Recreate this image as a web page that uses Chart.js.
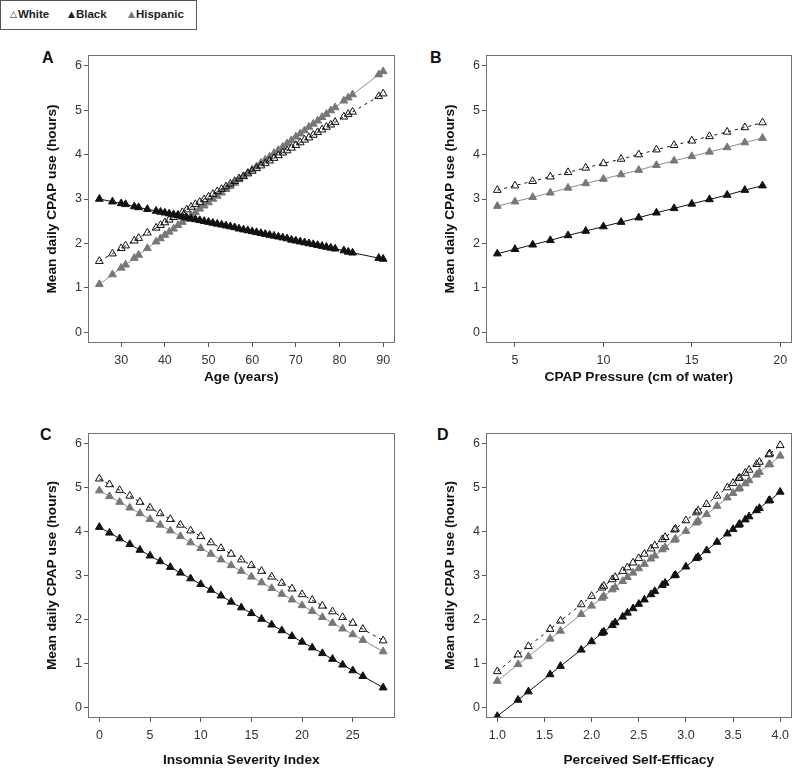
<!DOCTYPE html>
<html>
<head>
<meta charset="utf-8">
<script src="https://cdn.jsdelivr.net/npm/chart.js@4.4.0/dist/chart.umd.min.js"></script>
<style>
  body { margin: 0; background: #fff; width: 797px; height: 770px; position: relative; overflow: hidden;
         font-family: 'Liberation Sans', Arial, sans-serif; }
  canvas { position: absolute; }
  .letter { position: absolute; font: bold 16px/16px 'Liberation Sans', Arial, sans-serif; color: #111; }
  #legend { position: absolute; left: 0; top: 0; width: 197px; height: 30px; border: 1px solid #555; box-sizing: border-box; }
  #legend > span { position: absolute; top: 7px; font-weight: bold; font-size: 11.5px; color: #222; }
  #legend .sym { font-family: 'DejaVu Sans', sans-serif; font-size: 9px; font-weight: normal; vertical-align: 1px; margin-right: 1px; }
</style>
</head>
<body>
<div id="legend">
  <span style="left:9px"><span class="sym">△</span>White</span>
  <span style="left:67px"><span class="sym">▲</span>Black</span>
  <span style="left:127px"><span class="sym" style="color:#777">▲</span>Hispanic</span>
</div>
<div class="letter" style="left:42px; top:50px">A</div>
<div class="letter" style="left:430px; top:50px">B</div>
<div class="letter" style="left:40px; top:427px">C</div>
<div class="letter" style="left:437px; top:427px">D</div>

<canvas id="cA" width="400" height="350" style="left:0; top:40px"></canvas>
<canvas id="cB" width="397" height="350" style="left:400px; top:40px"></canvas>
<canvas id="cC" width="400" height="380" style="left:0; top:390px"></canvas>
<canvas id="cD" width="397" height="380" style="left:400px; top:390px"></canvas>

<script>
// ---- data ----
const yTicks = [0, 1, 2, 3, 4, 5, 6];

// A: age
const ageX = [25,28,30,31,33,34,36,38,39,40,41,42,43,44,45,46,47,48,49,50,51,52,53,54,55,56,57,58,59,60,
  61,62,63,64,65,66,67,68,69,70,71,72,73,74,75,76,77,78,79,81,82,83,89,90];
const ageWhite = [1.60,1.77,1.89,1.95,2.06,2.12,2.24,2.35,2.41,2.47,2.53,2.59,2.64,2.70,2.76,2.82,2.88,2.93,2.99,3.05,
  3.11,3.17,3.22,3.28,3.34,3.40,3.46,3.51,3.57,3.63,3.69,3.75,3.80,3.86,3.92,3.98,4.04,4.09,4.15,4.21,
  4.27,4.33,4.38,4.44,4.50,4.56,4.62,4.67,4.73,4.85,4.91,4.96,5.31,5.37];
const ageBlack = [3.00,2.94,2.90,2.88,2.83,2.81,2.77,2.73,2.71,2.69,2.67,2.65,2.63,2.60,2.58,2.56,2.54,2.52,2.50,2.48,
  2.46,2.44,2.42,2.40,2.38,2.36,2.33,2.31,2.29,2.27,2.25,2.23,2.21,2.19,2.17,2.15,2.13,2.11,2.08,2.06,
  2.04,2.02,2.00,1.98,1.96,1.94,1.92,1.90,1.88,1.84,1.81,1.79,1.67,1.65];
const ageHispanic = [1.08,1.30,1.45,1.52,1.67,1.74,1.89,2.04,2.11,2.19,2.26,2.33,2.41,2.48,2.55,2.63,2.70,2.78,2.85,2.92,
  3.00,3.07,3.14,3.22,3.29,3.36,3.44,3.51,3.59,3.66,3.73,3.81,3.88,3.95,4.03,4.10,4.17,4.25,4.32,4.40,
  4.47,4.54,4.62,4.69,4.76,4.84,4.91,4.99,5.06,5.21,5.28,5.35,5.80,5.87];
const ageTicks = [30, 40, 50, 60, 70, 80, 90];

// B: CPAP pressure
const presX = [4,5,6,7,8,9,10,11,12,13,14,15,16,17,18,19];
const presWhite = [3.20,3.30,3.40,3.50,3.60,3.70,3.80,3.90,4.00,4.11,4.21,4.31,4.41,4.51,4.61,4.72];
const presBlack = [1.77,1.87,1.97,2.07,2.18,2.28,2.38,2.48,2.58,2.69,2.79,2.89,2.99,3.09,3.20,3.30];
const presHispanic = [2.84,2.94,3.04,3.14,3.25,3.35,3.45,3.55,3.65,3.76,3.86,3.96,4.06,4.16,4.27,4.37];
const presTicks = [5, 10, 15, 20];

// C: insomnia severity index
const isiX = [0,1,2,3,4,5,6,7,8,9,10,11,12,13,14,15,16,17,18,19,20,21,22,23,24,25,26,28];
const isiWhite = [5.20,5.07,4.94,4.81,4.67,4.54,4.41,4.28,4.15,4.02,3.89,3.75,3.62,3.49,3.36,3.23,3.10,2.97,2.83,2.70,
  2.57,2.44,2.31,2.18,2.05,1.92,1.78,1.52];
const isiBlack = [4.10,3.97,3.84,3.71,3.58,3.45,3.32,3.19,3.06,2.93,2.80,2.67,2.54,2.40,2.27,2.14,2.01,1.88,1.75,1.62,
  1.49,1.36,1.23,1.10,0.97,0.84,0.71,0.45];
const isiHispanic = [4.93,4.80,4.67,4.54,4.41,4.28,4.15,4.02,3.89,3.75,3.62,3.49,3.36,3.23,3.10,2.97,2.84,2.71,2.58,2.45,
  2.32,2.19,2.05,1.92,1.79,1.66,1.53,1.27];
const isiTicks = [0, 5, 10, 15, 20, 25];

// D: perceived self-efficacy
const effX = [1.0,1.22,1.33,1.56,1.67,1.89,2.0,2.11,2.13,2.22,2.25,2.33,2.38,2.44,2.5,2.56,2.63,2.67,2.75,2.78,
  2.88,2.89,3.0,3.11,3.13,3.22,3.33,3.44,3.5,3.56,3.57,3.63,3.67,3.75,3.78,3.88,3.89,4.0];
const effWhite = [0.82,1.20,1.39,1.78,1.97,2.34,2.53,2.72,2.76,2.91,2.96,3.10,3.18,3.29,3.39,3.49,3.61,3.68,3.82,3.87,
  4.04,4.06,4.25,4.43,4.47,4.62,4.81,5.00,5.10,5.21,5.22,5.33,5.40,5.53,5.58,5.75,5.77,5.96];
const effBlack = [-0.20,0.17,0.36,0.75,0.94,1.31,1.50,1.69,1.72,1.87,1.93,2.06,2.15,2.25,2.35,2.45,2.57,2.64,2.78,2.83,
  3.00,3.01,3.20,3.39,3.42,3.57,3.76,3.95,4.05,4.15,4.17,4.27,4.34,4.48,4.53,4.70,4.71,4.90];
const effHispanic = [0.60,0.98,1.16,1.56,1.74,2.12,2.31,2.49,2.53,2.68,2.73,2.87,2.96,3.06,3.16,3.26,3.38,3.45,3.59,3.64,
  3.81,3.83,4.01,4.20,4.24,4.39,4.58,4.77,4.87,4.97,4.99,5.09,5.16,5.29,5.35,5.52,5.53,5.72];
const effTicks = [1.0, 1.5, 2.0, 2.5, 3.0, 3.5, 4.0];

// ---- drawing ----
const FONT = "'Liberation Sans', Arial, sans-serif";

const boxPlugin = {
    id: 'box',
    afterDraw(chart) {
        const { ctx, chartArea: a } = chart;
        ctx.save();
        ctx.strokeStyle = '#707070';
        ctx.lineWidth = 1;
        ctx.strokeRect(Math.round(a.left) + 0.5, Math.round(a.top) + 0.5,
            Math.round(a.right - a.left) - 1, Math.round(a.bottom - a.top) - 1);
        ctx.restore();
    }
};

const pts = (xs, ys) => xs.map((x, i) => ({ x: x, y: ys[i] }));

function makePanel(id, g, xs, white, black, hisp, xMin, xMax, xTicks, xTitle, fmt) {
    return new Chart(document.getElementById(id), {
        type: 'line',
        data: {
            datasets: [
                {
                    label: 'White', data: pts(xs, white),
                    borderColor: '#111', borderWidth: 1, borderDash: [3, 4],
                    pointStyle: 'triangle', pointRadius: 4.5, pointBorderWidth: 1,
                    pointBorderColor: '#111', pointBackgroundColor: 'rgba(255,255,255,0)'
                },
                {
                    label: 'Black', data: pts(xs, black),
                    borderColor: '#111', borderWidth: 1,
                    pointStyle: 'triangle', pointRadius: 4.5, pointBorderWidth: 1,
                    pointBorderColor: '#111', pointBackgroundColor: '#111'
                },
                {
                    label: 'Hispanic', data: pts(xs, hisp),
                    borderColor: '#8c8c8c', borderWidth: 1,
                    pointStyle: 'triangle', pointRadius: 4.5, pointBorderWidth: 1,
                    pointBorderColor: '#777', pointBackgroundColor: '#777'
                }
            ]
        },
        options: {
            responsive: false,
            animation: false,
            layout: { padding: { top: g.top, right: g.right, left: 0, bottom: 0 } },
            plugins: { legend: { display: false }, tooltip: { enabled: false } },
            scales: {
                x: {
                    type: 'linear', min: xMin, max: xMax,
                    afterBuildTicks: s => { s.ticks = xTicks.map(v => ({ value: v })); },
                    afterFit: s => { s.height = g.xh; s.paddingLeft = 0; s.paddingRight = 0; },
                    grid: { drawOnChartArea: false, drawTicks: true, tickLength: 4, tickColor: '#555' },
                    border: { display: false },
                    ticks: {
                        color: '#333', padding: 6, autoSkip: false, maxRotation: 0,
                        font: { family: FONT, size: 12.5 },
                        callback: v => fmt ? Number(v).toFixed(1) : v
                    },
                    title: {
                        display: true, text: xTitle, color: '#111',
                        font: { family: FONT, size: 13.7, weight: 'bold' },
                        padding: { top: 0, bottom: g.xtp }
                    }
                },
                y: {
                    type: 'linear', min: -0.24, max: 6.24,
                    afterBuildTicks: s => { s.ticks = yTicks.map(v => ({ value: v })); },
                    afterFit: s => { s.width = g.left; s.paddingTop = 0; s.paddingBottom = 0; },
                    grid: { drawOnChartArea: false, drawTicks: true, tickLength: 4, tickColor: '#555' },
                    border: { display: false },
                    ticks: { color: '#333', padding: 2, font: { family: FONT, size: 12.5 } },
                    title: {
                        display: true, text: 'Mean daily CPAP use (hours)', color: '#111',
                        font: { family: FONT, size: 13.7, weight: 'bold' },
                        padding: { top: g.left - 44, bottom: 0 }
                    }
                }
            }
        },
        plugins: [boxPlugin]
    });
}

makePanel('cA', { left: 88, top: 15, right: 2, xh: 47, xtp: 5 },
    ageX, ageWhite, ageBlack, ageHispanic, 22.4, 92.6, ageTicks, 'Age (years)', false);
makePanel('cB', { left: 86, top: 15, right: 1, xh: 47, xtp: 5 },
    presX, presWhite, presBlack, presHispanic, 3.36, 20.64, presTicks, 'CPAP Pressure (cm of water)', false);
makePanel('cC', { left: 88, top: 43, right: 2, xh: 52, xtp: 2 },
    isiX, isiWhite, isiBlack, isiHispanic, -1.12, 29.12, isiTicks, 'Insomnia Severity Index', false);
makePanel('cD', { left: 86, top: 43, right: 1, xh: 52, xtp: 2 },
    effX, effWhite, effBlack, effHispanic, 0.88, 4.12, effTicks, 'Perceived Self-Efficacy', true);
</script>
</body>
</html>
